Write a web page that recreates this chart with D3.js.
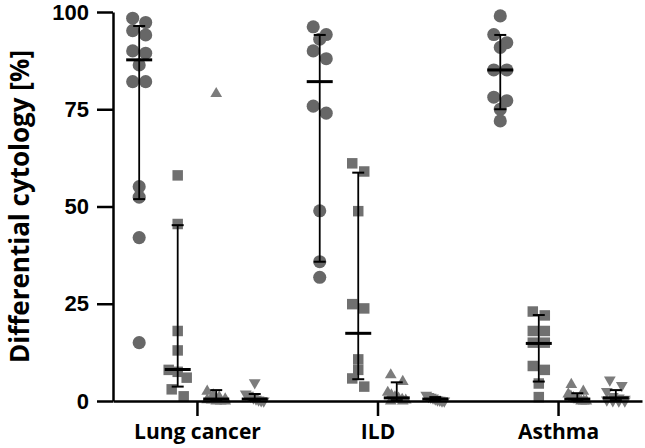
<!DOCTYPE html>
<html lang="en">
    <head>
        <meta charset="UTF-8">
        <title>Differential cytology</title>
        <script src="https://cdn.jsdelivr.net/npm/d3@7"></script>
        <style>
            body { margin: 0; background: #fff; }
            svg { display: block; }
        </style>
    </head>
    <body>
        <div id="chart"></div>
        <script>
            // categories and the four marker series per category
            const categories = ["Lung cancer", "ILD", "Asthma"];
            const seriesShapes = ["circle", "square", "triangle", "triangleDown"];

            // individual values (%)
            const lungCircle = [98.4, 97.3, 95.2, 94.1, 90, 89.4, 86.4, 82.1, 82.1, 55.1, 52.4, 42, 15];
            const lungSquare = [58, 45.5, 18, 13, 8, 7.5, 6, 3, 1.2];
            const lungTriangle = [79, 2.5, 1.5, 1, 0.5, 0.3, 0.2, 0, 0, 0];
            const lungTriangleDown = [4.7, 1.8, 1.5, 1.2, 0.8, 0.5, 0.3, 0.1, 0];

            const ildCircle = [96.2, 94.2, 93, 90, 88, 75.8, 74, 48.9, 35.8, 31.8];
            const ildSquare = [61.1, 59, 48.8, 24.9, 23.8, 10.7, 8, 5.8, 3.7];
            const ildTriangle = [6.7, 5, 2.2, 1.5, 1, 0.7, 0.4, 0.2, 0, 0];
            const ildTriangleDown = [1.5, 1.2, 1, 0.8, 0.5, 0.3, 0.2, 0, 0];

            const asthmaCircle = [99, 94.2, 92.1, 90.9, 85.1, 85.1, 78.1, 77.2, 75, 72];
            const asthmaSquare = [23, 22, 18, 18, 15, 15, 9, 8, 4.5, 1];
            const asthmaTriangle = [4.2, 2.5, 1.8, 1.2, 0.8, 0.5, 0.3, 0, 0, 0];
            const asthmaTriangleDown = [5.4, 4, 2.5, 1.2, 0.8, 0.5, 0.3, 0.1, 0, 0];

            // median and interquartile range, per series (circle, square, triangle, triangleDown)
            const lungMedian = [87.7, 8.1, 0.5, 0.5];
            const lungLow = [51.9, 3.7, 0, 0.1];
            const lungHigh = [96.4, 45.2, 2.8, 1.8];

            const ildMedian = [82.1, 17.4, 0.8, 0.5];
            const ildLow = [35.8, 5.6, 0.2, 0.1];
            const ildHigh = [94.1, 58.7, 4.8, 1.0];

            const asthmaMedian = [85.1, 14.8, 0.5, 0.8];
            const asthmaLow = [75, 5, 0.1, 0.2];
            const asthmaHigh = [94.1, 22.1, 2, 2.8];

            const yTicks = [0, 25, 50, 75, 100];
            const yLabel = "Differential cytology [%]";

            const values = [
                [lungCircle, lungSquare, lungTriangle, lungTriangleDown],
                [ildCircle, ildSquare, ildTriangle, ildTriangleDown],
                [asthmaCircle, asthmaSquare, asthmaTriangle, asthmaTriangleDown]
            ];
            const medians = [lungMedian, ildMedian, asthmaMedian];
            const lows = [lungLow, ildLow, asthmaLow];
            const highs = [lungHigh, ildHigh, asthmaHigh];

            const width = 645;
            const height = 448;
            const margin = {top: 12, right: 3, bottom: 47, left: 113};

            const svg = d3.select("#chart")
                .append("svg")
                .attr("width", width)
                .attr("height", height);

            const y = d3.scaleLinear()
                .domain([0, 100])
                .range([height - margin.bottom, margin.top]);

            const x = d3.scalePoint()
                .domain(categories)
                .range([margin.left, width - margin.right])
                .padding(0.465);

            const xSub = d3.scalePoint()
                .domain(seriesShapes)
                .range([-0.32 * x.step(), 0.32 * x.step()]);

            const style = {
                circle: {symbol: d3.symbolCircle, size: 135, w: 12, fill: "#676767"},
                square: {symbol: d3.symbolSquare, size: 110, w: 11, fill: "#707070"},
                triangle: {symbol: d3.symbolTriangle, size: 60, w: 11, fill: "#7c7c7c"},
                triangleDown: {symbol: d3.symbolTriangle, size: 60, w: 11, fill: "#7c7c7c", rotate: 180}
            };

            // spread overlapping points sideways, like a column scatter
            function spread(vals, shape) {
                const st = style[shape];
                const sorted = vals.slice().sort((a, b) => b - a);
                const bins = [];
                sorted.forEach(v => {
                    const py = y(v);
                    const last = bins[bins.length - 1];
                    if (last && py - last.start < 8.5) last.items.push(v);
                    else bins.push({start: py, items: [v]});
                });
                const out = [];
                bins.forEach(b => {
                    const n = b.items.length;
                    const gap = n > 1 ? Math.min(st.w + 1, 18 / (n - 1)) : 0;
                    b.items.forEach((v, i) => out.push({v, dx: (i - (n - 1) / 2) * gap}));
                });
                return out;
            }

            const points = svg.append("g").attr("class", "points");
            categories.forEach((cat, ci) => {
                seriesShapes.forEach((shape, si) => {
                    const st = style[shape];
                    const cx = x(cat) + xSub(shape);
                    points.append("g")
                        .selectAll("path")
                        .data(spread(values[ci][si], shape))
                        .enter()
                        .append("path")
                        .attr("d", d3.symbol().type(st.symbol).size(st.size))
                        .attr("transform", d => "translate(" + (cx + d.dx) + "," + y(d.v) + ")" + (st.rotate ? " rotate(180)" : ""))
                        .attr("fill", st.fill);
                });
            });

            // median + IQR bars
            const bars = svg.append("g").attr("class", "bars").attr("stroke", "#000");
            categories.forEach((cat, ci) => {
                seriesShapes.forEach((shape, si) => {
                    const cx = x(cat) + xSub(shape);
                    const g = bars.append("g");
                    g.append("line")
                        .attr("x1", cx).attr("x2", cx)
                        .attr("y1", y(lows[ci][si])).attr("y2", y(highs[ci][si]))
                        .attr("stroke-width", 1.8);
                    [lows[ci][si], highs[ci][si]].forEach(v => {
                        g.append("line")
                            .attr("x1", cx - 6).attr("x2", cx + 6)
                            .attr("y1", y(v)).attr("y2", y(v))
                            .attr("stroke-width", 2);
                    });
                    g.append("line")
                        .attr("x1", cx - 13).attr("x2", cx + 13)
                        .attr("y1", y(medians[ci][si])).attr("y2", y(medians[ci][si]))
                        .attr("stroke-width", 3);
                });
            });

            const yAxis = svg.append("g")
                .attr("transform", "translate(" + margin.left + ",0)")
                .call(d3.axisLeft(y).tickValues(yTicks).tickSize(16).tickSizeOuter(0).tickPadding(8));

            const xAxis = svg.append("g")
                .attr("transform", "translate(0," + (height - margin.bottom) + ")")
                .call(d3.axisBottom(x).tickSize(15).tickSizeOuter(0).tickPadding(8));

            [yAxis, xAxis].forEach(a => {
                a.selectAll("path, line").attr("stroke", "#000").attr("stroke-width", 2.5);
                a.selectAll("text")
                    .attr("fill", "#000")
                    .attr("font-family", "'Liberation Sans', Arial, sans-serif")
                    .attr("font-weight", "bold")
                    .attr("font-size", 22);
            });
            xAxis.selectAll("text").attr("font-family", "'Open Sans', sans-serif").attr("font-size", 21);

            svg.append("text")
                .attr("transform", "translate(19," + ((margin.top + height - margin.bottom) / 2) + ") rotate(-90)")
                .attr("text-anchor", "middle")
                .attr("dominant-baseline", "central")
                .attr("font-family", "'Open Sans', sans-serif")
                .attr("font-weight", "bold")
                .attr("font-size", 26)
                .text(yLabel);
        </script>
    </body>
</html>
